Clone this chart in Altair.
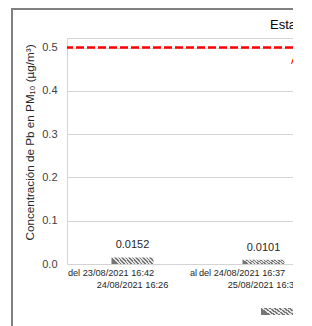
import altair as alt
import pandas as pd

# ---- data ----
periods = [
    "del 23/08/2021 16:42 al 24/08/2021 16:26",
    "del 24/08/2021 16:37 al 25/08/2021 16:32",
]
values = [0.0152, 0.0101]
limit_value = 0.5
y_ticks = [0.0, 0.1, 0.2, 0.3, 0.4, 0.5]
y_title = "Concentración de Pb en PM\u2081\u2080  (µg/m³)"
chart_title = "Estación de monitoreo"
limit_label = "Anual"

df = pd.DataFrame({"periodo": periods, "valor": values})

FONT = "Liberation Sans"
GRID = "#d4d4d4"
Y_MAX = 0.522
PLOT_BOTTOM = 256
PLOT_TOP = 30
VISIBLE_W = 226   # the reference picture is cropped here
VIEW_W = 237


def hatch(r, period, dark="#767676", light="#e4e4e4", frac=0.45):
    stops = []
    t = 0.0
    while t < 1.0:
        stops.append(alt.GradientStop(color=dark, offset=round(t, 4)))
        stops.append(alt.GradientStop(color=dark, offset=round(min(t + period * frac, 1), 4)))
        stops.append(alt.GradientStop(color=light, offset=round(min(t + period * frac, 1), 4)))
        stops.append(alt.GradientStop(color=light, offset=round(min(t + period, 1), 4)))
        t += period
    return alt.LinearGradient(gradient="linear", stops=stops, x1=0, y1=r, x2=1, y2=0)


nbsp = "\u00a0" * 14

x_scale = alt.Scale(range=[0, 262], paddingInner=0, paddingOuter=0)
y_scale = alt.Scale(domain=[0, Y_MAX], range=[PLOT_BOTTOM, PLOT_TOP], nice=False, zero=True)

y_axis = alt.Axis(
    values=y_ticks + [Y_MAX],
    labelExpr="datum.value > 0.51 ? '' : format(datum.value, '.1f')",
    labelFont=FONT,
    labelFontSize=11,
    labelColor="#404040",
    labelPadding=10,
    labelOverlap=False,
    ticks=False,
    domainColor=GRID,
    gridColor=GRID,
    gridWidth=1.2,
    grid=True,
    title=y_title,
    titleFont=FONT,
    titleFontSize=11.7,
    titleFontWeight="normal",
    titleColor="#262626",
    titleAngle=270,
    titleX=-37.5,
    titleY=134,
    titleAlign="center",
    titleBaseline="middle",
)

xe = alt.X("periodo:N", sort=None, scale=x_scale, axis=None)
ye = alt.Y("valor:Q", scale=y_scale, axis=y_axis)

bars = alt.Chart(df).mark_bar(size=42, fill=hatch(0.14, 0.082)).encode(x=xe, y=ye)

labels = alt.Chart(df).mark_text(
    dy=-9, baseline="alphabetic", font=FONT, fontSize=11, color="#262626"
).encode(x=xe, y=ye, text=alt.Text("valor:Q", format=".4f"))

x_labels = alt.Chart(df).transform_calculate(
    lab="replace(datum.periodo, ' al ', '" + nbsp + "al|')"
).mark_text(
    baseline="top", align="center", font=FONT, fontSize=9.2, lineHeight=12,
    lineBreak="|", color="#262626", dy=5,
).encode(x=xe, y=alt.value(PLOT_BOTTOM), text="lab:N")

limit = alt.Chart(pd.DataFrame({"valor": [limit_value]})).mark_rule(
    color="#ff0000", strokeDash=[8, 3], strokeWidth=2.3
).encode(y=ye)

limit_text = alt.Chart(pd.DataFrame({"valor": [limit_value], "t": [limit_label]})).mark_text(
    align="left", baseline="top", dy=8, font=FONT, fontSize=10, color="#ff0000"
).encode(x=alt.value(224), y=ye, text="t:N")

title_text = alt.Chart(pd.DataFrame({"t": [chart_title]})).mark_text(
    align="left", baseline="alphabetic", font=FONT, fontSize=13, color="#000000"
).encode(x=alt.value(203), y=alt.value(20.5), text="t:N")

one = pd.DataFrame({"k": [0]})
border_left = alt.Chart(one).mark_rule(color="#808080", strokeWidth=2).encode(
    x=alt.value(-55), y=alt.value(0), y2=alt.value(318)
)
border_top = alt.Chart(one).mark_rule(color="#808080", strokeWidth=2).encode(
    x=alt.value(-56), x2=alt.value(VISIBLE_W), y=alt.value(1)
)
legend_swatch = alt.Chart(one).mark_rect(fill=hatch(0.21, 0.1)).encode(
    x=alt.value(194), x2=alt.value(240), y=alt.value(300), y2=alt.value(307)
)
# white band reproducing the crop of the original picture at its right edge
crop = alt.Chart(one).mark_rect(fill="#ffffff").encode(
    x=alt.value(VISIBLE_W), x2=alt.value(VIEW_W), y=alt.value(0), y2=alt.value(318)
)

chart = (
    alt.layer(bars, labels, x_labels, limit, limit_text, title_text, border_left,
              border_top, legend_swatch, crop)
    .properties(
        width=VIEW_W,
        height=318,
        autosize=alt.AutoSizeParams(type="none"),
        padding={"left": 59, "top": 0, "right": 0, "bottom": 0},
        background="white",
    )
    .configure_view(stroke=None)
)

chart.save("out.html", embed_options={"renderer": "svg", "actions": False})
